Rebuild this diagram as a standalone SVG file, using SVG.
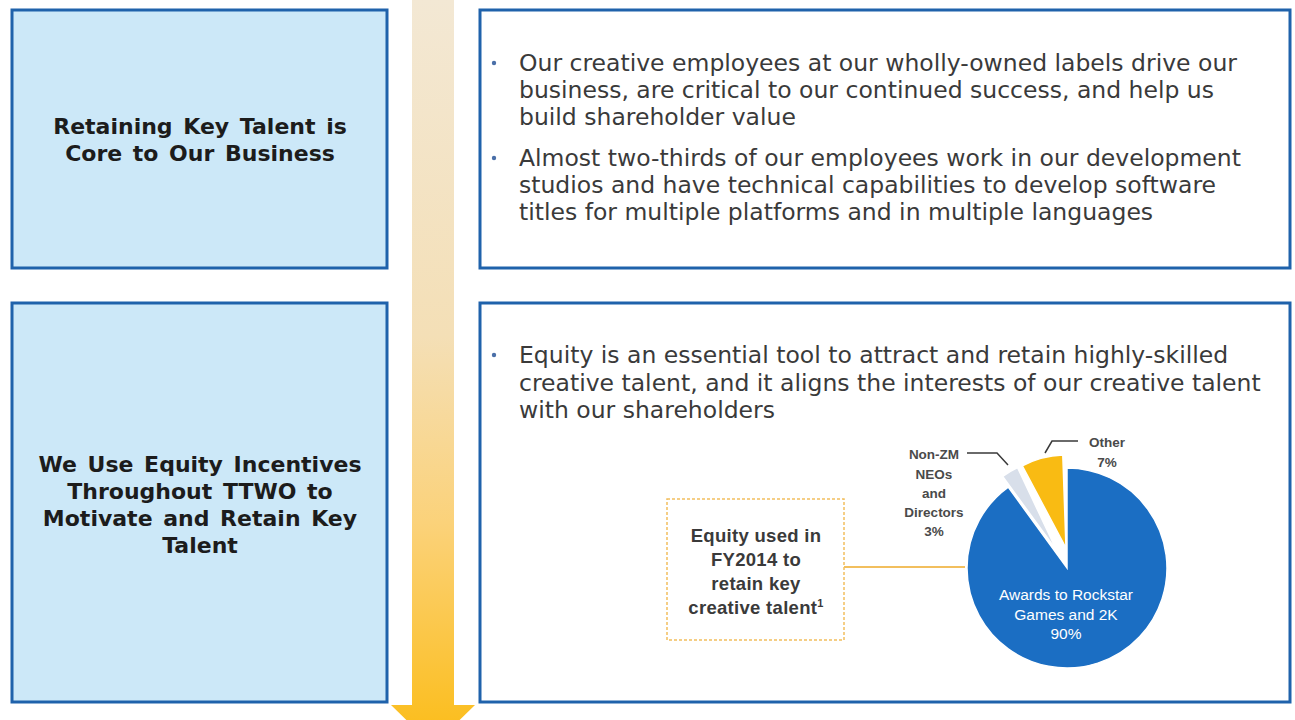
<svg xmlns="http://www.w3.org/2000/svg" width="1295" height="720" viewBox="0 0 1295 720">
<defs>
<linearGradient id="arrowGrad" x1="0" y1="0" x2="0" y2="1">
<stop offset="0" stop-color="#f3e8d4"/>
<stop offset="0.45" stop-color="#f4dfb6"/>
<stop offset="0.7" stop-color="#fbd27a"/>
<stop offset="1" stop-color="#fbbc16"/>
</linearGradient>
<style>
.lbox{fill:#cce8f8;stroke:#1f62ab;stroke-width:3}
.rbox{fill:#ffffff;stroke:#1f62ab;stroke-width:3}
.title{font-family:"DejaVu Sans","Liberation Sans",sans-serif;font-weight:bold;font-size:22px;word-spacing:3px;fill:#1c1c1c;text-anchor:middle}
.body{font-family:"DejaVu Sans","Liberation Sans",sans-serif;font-size:23.5px;fill:#3a3a3a}
.bullet{fill:#4a6fa8}
.eq{font-family:"Liberation Sans",Arial,sans-serif;font-weight:bold;font-size:18.5px;letter-spacing:0.3px;fill:#3a3a3a;text-anchor:middle}
.small{font-family:"Liberation Sans",Arial,sans-serif;font-weight:bold;font-size:13.5px;fill:#4a4a4a;text-anchor:middle}
.pie{font-family:"Liberation Sans",Arial,sans-serif;font-size:15.5px;fill:#ffffff;text-anchor:middle}
.lead{fill:none;stroke:#3a3a3a;stroke-width:1.5}
</style>
</defs>
<rect width="1295" height="720" fill="#ffffff"/>

<g id="arrow">
<polygon points="412,0 454,0 454,705 475,705 433,746 391,705 412,705" fill="url(#arrowGrad)"/>
</g>

<g id="node-retaining">
<rect class="lbox" x="12" y="10" width="375" height="258"/>
<text class="title" x="200" y="134">Retaining Key Talent is</text>
<text class="title" x="200" y="161">Core to Our Business</text>
</g>

<g id="node-equity-incentives">
<rect class="lbox" x="12" y="303" width="375" height="399"/>
<text class="title" x="200" y="472">We Use Equity Incentives</text>
<text class="title" x="200" y="499">Throughout TTWO to</text>
<text class="title" x="200" y="526">Motivate and Retain Key</text>
<text class="title" x="200" y="553">Talent</text>
</g>

<g id="node-creative-employees">
<rect class="rbox" x="480" y="10" width="810" height="258"/>
<circle class="bullet" cx="494" cy="63" r="2.2"/>
<text class="body" x="519" y="71">Our creative employees at our wholly-owned labels drive our</text>
<text class="body" x="519" y="98">business, are critical to our continued success, and help us</text>
<text class="body" x="519" y="125">build shareholder value</text>
<circle class="bullet" cx="494" cy="158" r="2.2"/>
<text class="body" x="519" y="166">Almost two-thirds of our employees work in our development</text>
<text class="body" x="519" y="193">studios and have technical capabilities to develop software</text>
<text class="body" x="519" y="220">titles for multiple platforms and in multiple languages</text>
</g>

<g id="node-equity-tool">
<rect class="rbox" x="480" y="303" width="810" height="399"/>
<circle class="bullet" cx="494" cy="355" r="2.2"/>
<text class="body" x="519" y="363">Equity is an essential tool to attract and retain highly-skilled</text>
<text class="body" x="519" y="391">creative talent, and it aligns the interests of our creative talent</text>
<text class="body" x="519" y="418">with our shareholders</text>
</g>

<g id="node-equity-used">
<rect x="667" y="499" width="177" height="141" fill="#ffffff" stroke="#f2bf5e" stroke-width="1.5" stroke-dasharray="3,2"/>
<text class="eq" x="756" y="542">Equity used in</text>
<text class="eq" x="756" y="566">FY2014 to</text>
<text class="eq" x="756" y="590">retain key</text>
<text class="eq" x="756" y="614">creative talent<tspan font-size="11" dy="-7">1</tspan></text>
</g>

<g id="node-pie">
<path d="M1067,568 L1067,468 A100,100 0 1,1 1008.2,487.1 Z" fill="#1b6ec3" stroke="#ffffff" stroke-width="1.5"/>
<path d="M1056.8,550.8 L1002.7,476.4 A92,92 0 0,1 1017.6,467.6 Z" fill="#d8dfea" stroke="#ffffff" stroke-width="1.5"/>
<path d="M1066,548 L1022.3,465.9 A93,93 0 0,1 1062.8,455.1 Z" fill="#f9bb13" stroke="#ffffff" stroke-width="1.5"/>
<text class="pie" x="1066" y="600">Awards to Rockstar</text>
<text class="pie" x="1066" y="620">Games and 2K</text>
<text class="pie" x="1066" y="639">90%</text>
<text class="small" x="934" y="459">Non-ZM</text>
<text class="small" x="934" y="479">NEOs</text>
<text class="small" x="934" y="498">and</text>
<text class="small" x="934" y="517">Directors</text>
<text class="small" x="934" y="536">3%</text>
<text class="small" x="1107" y="447">Other</text>
<text class="small" x="1107" y="467">7%</text>
</g>

<g id="connectors">
<line x1="844" y1="567" x2="965" y2="567" stroke="#f2bf5e" stroke-width="2"/>
<polyline class="lead" points="967,453 997,453 1008,465"/>
<polyline class="lead" points="1078,441 1052,441 1045,453"/>
</g>
</svg>
